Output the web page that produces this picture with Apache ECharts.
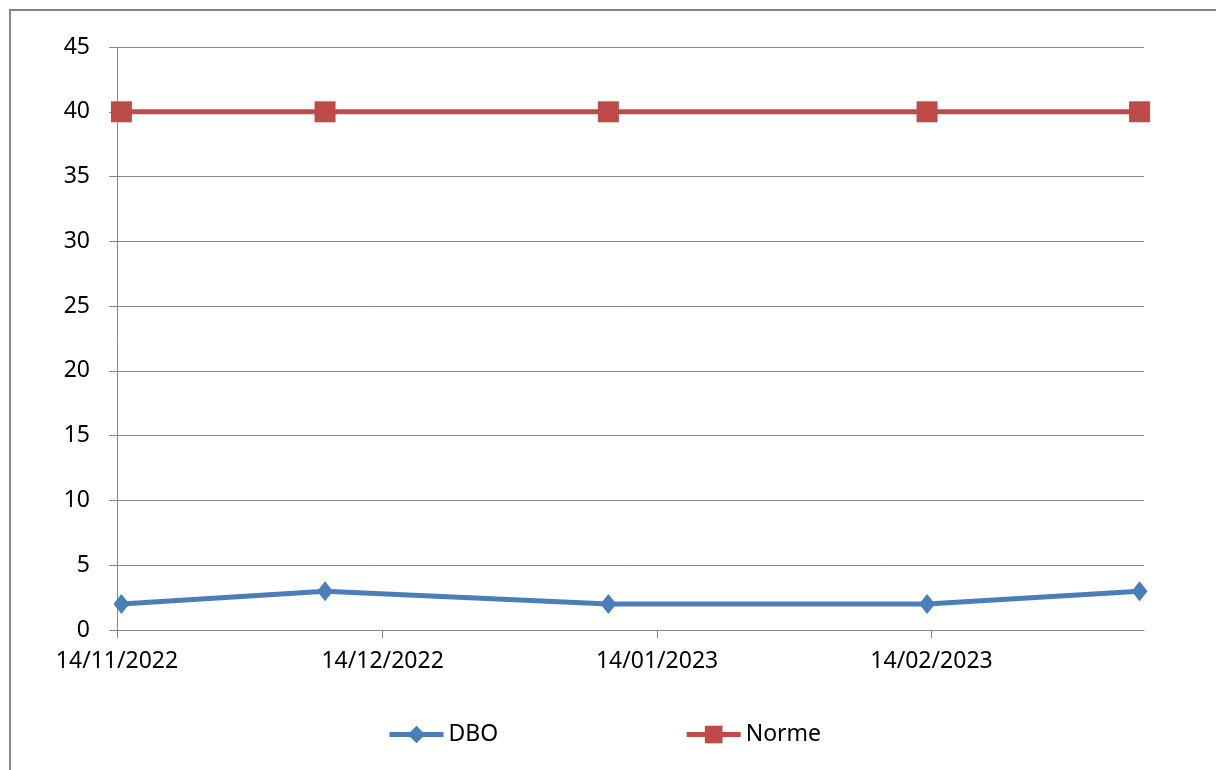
<!DOCTYPE html>
<html>
<head>
<meta charset="utf-8">
<title>DBO</title>
<script src="https://cdn.jsdelivr.net/npm/echarts@6/dist/echarts.min.js"></script>
<style>
  html, body { margin: 0; padding: 0; background: #fff; }
  #chart { width: 1216px; height: 770px; }
</style>
</head>
<body>
<div id="chart"></div>
<script>
// Sampling dates and measured values
const sampleDates = ['2022-11-14', '2022-12-07', '2023-01-08', '2023-02-13', '2023-03-09'];
const dboValues = [2, 3, 2, 2, 3];
const normeValues = [40, 40, 40, 40, 40];

// Date axis: labelled ticks and visible range
const tickDates = ['2022-11-14', '2022-12-14', '2023-01-14', '2023-02-14'];
const axisStart = '2022-11-14';
const axisEnd = '2023-03-10';
const yMax = 45;
const yStep = 5;

const DAY = 24 * 3600 * 1000;
function toTime(s) {
  const [y, m, d] = s.split('-').map(Number);
  return new Date(y, m - 1, d).getTime();
}
function pad(n) { return (n < 10 ? '0' : '') + n; }
function fmtDate(t) {
  const d = new Date(t);
  return pad(d.getDate()) + '/' + pad(d.getMonth() + 1) + '/' + d.getFullYear();
}
// each point sits in the middle of its day
const pts = vals => sampleDates.map((s, i) => [toTime(s) + DAY / 2, vals[i]]);
const tickTimes = tickDates.map(toTime);

const FONT = 'Noto Sans';
const GRAY = '#868686';
const FS = 23;

const chart = echarts.init(document.getElementById('chart'), null, { renderer: 'canvas' });
chart.setOption({
  animation: false,
  backgroundColor: '#fff',
  textStyle: { fontFamily: FONT },
  graphic: [{
    type: 'rect',
    shape: { x: 10, y: 10, width: 1240, height: 800 },
    style: { fill: 'none', stroke: GRAY, lineWidth: 2 },
    silent: true
  }],
  grid: { left: 117, right: 72, top: 47, bottom: 140 },
  legend: {
    left: 382,
    top: 718,
    itemWidth: 54,
    itemHeight: 22,
    itemGap: 186,
    lineStyle: { width: 5 },
    textStyle: { fontFamily: FONT, fontSize: FS, color: '#000' },
    data: ['DBO', 'Norme']
  },
  xAxis: {
    type: 'value',
    min: toTime(axisStart),
    max: toTime(axisEnd),
    axisLine: { show: true, lineStyle: { color: GRAY, width: 1 } },
    axisTick: { show: true, length: 8, lineStyle: { color: GRAY }, customValues: tickTimes },
    axisLabel: {
      customValues: tickTimes,
      formatter: v => fmtDate(v),
      fontFamily: FONT, fontSize: FS, color: '#000', margin: 20
    },
    splitLine: { show: false }
  },
  yAxis: {
    type: 'value',
    min: 0,
    max: yMax,
    interval: yStep,
    axisLine: { show: true, lineStyle: { color: GRAY, width: 1 } },
    axisTick: { show: true, length: 8, lineStyle: { color: GRAY } },
    axisLabel: { fontFamily: FONT, fontSize: FS, color: '#000', margin: 27 },
    splitLine: { show: true, lineStyle: { color: GRAY, width: 1 } }
  },
  series: [
    {
      name: 'DBO',
      type: 'line',
      data: pts(dboValues),
      symbol: 'diamond',
      symbolSize: [16, 20],
      lineStyle: { color: '#4A7EBB', width: 5 },
      itemStyle: { color: '#4A7EBB' },
      z: 3
    },
    {
      name: 'Norme',
      type: 'line',
      data: pts(normeValues),
      symbol: 'rect',
      symbolSize: 21,
      lineStyle: { color: '#BE4B48', width: 5 },
      itemStyle: { color: '#BE4B48' },
      z: 2
    }
  ]
});
</script>
</body>
</html>
